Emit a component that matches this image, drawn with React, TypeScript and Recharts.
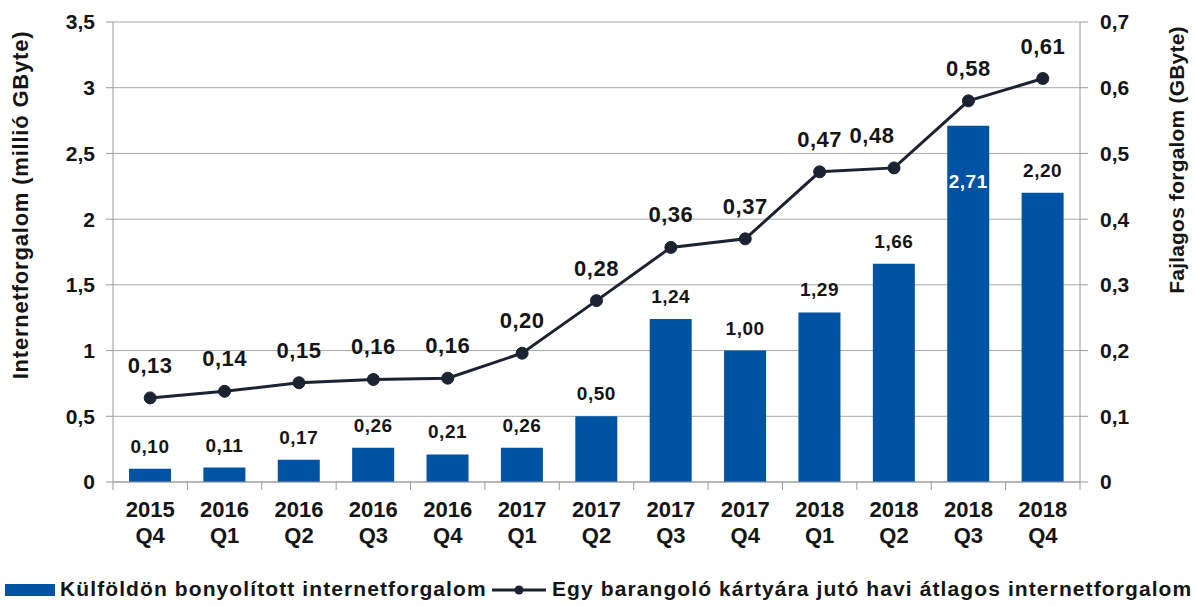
import React from 'react';
import { ComposedChart, Bar, Line, XAxis, YAxis, CartesianGrid, LabelList } from 'recharts';

const quarters = ['2015 Q4', '2016 Q1', '2016 Q2', '2016 Q3', '2016 Q4', '2017 Q1', '2017 Q2', '2017 Q3', '2017 Q4', '2018 Q1', '2018 Q2', '2018 Q3', '2018 Q4'];
const traffic = [0.10, 0.11, 0.17, 0.26, 0.21, 0.26, 0.50, 1.24, 1.00, 1.29, 1.66, 2.71, 2.20];
const perCard = [0.128, 0.138, 0.151, 0.156, 0.158, 0.196, 0.276, 0.357, 0.370, 0.472, 0.478, 0.580, 0.614];
const leftTicks = [0, 0.5, 1, 1.5, 2, 2.5, 3, 3.5];
const rightTicks = [0, 0.1, 0.2, 0.3, 0.4, 0.5, 0.6, 0.7];

const BAR_NAME = 'Külföldön bonyolított internetforgalom';
const LINE_NAME = 'Egy barangoló kártyára jutó havi átlagos internetforgalom';
const LEFT_TITLE = 'Internetforgalom (millió GByte)';
const RIGHT_TITLE = 'Fajlagos forgalom (GByte)';

const W = 1196;
const H = 560;
const PLOT_LEFT = 113;
const PLOT_RIGHT = 1080;
const BAND = (PLOT_RIGHT - PLOT_LEFT) / quarters.length;

// the 2018 Q3 bar label sits inside the bar, in white
const INSIDE_BAR_LABELS = [11];
// small nudges for line labels that would collide
const LINE_LABEL_DX: Record<number, number> = { 10: -22 };

const FONT = '"Liberation Sans", Arial, sans-serif';
const BAR_COLOR = '#0052a3';
const LINE_COLOR = '#1b2232';
const AXIS_COLOR = '#9a9a9a';
const TEXT_COLOR = '#151515';

const data = quarters.map((q, i) => ({ q, traffic: traffic[i], perCard: perCard[i] }));

const comma = (v: number, digits: number) => v.toFixed(digits).replace('.', ',');
const leftFmt = (v: number) => String(v).replace('.', ',');
const rightFmt = (v: number) => (v === 0 ? '0' : comma(v, 1));

const XTick = (props: any) => {
  const { x, y, payload, index } = props;
  const [year, qq] = String(payload.value).split(' ');
  const last = index === quarters.length - 1;
  return (
    <g>
      <line x1={x - BAND / 2} x2={x - BAND / 2} y1={y} y2={y + 8} stroke={AXIS_COLOR} />
      {last && <line x1={x + BAND / 2} x2={x + BAND / 2} y1={y} y2={y + 8} stroke={AXIS_COLOR} />}
      <text x={x} y={y + 35} textAnchor="middle" fontSize={22} fontWeight="bold" fill={TEXT_COLOR} fontFamily={FONT}>{year}</text>
      <text x={x} y={y + 61} textAnchor="middle" fontSize={22} fontWeight="bold" fill={TEXT_COLOR} fontFamily={FONT}>{qq}</text>
    </g>
  );
};

const BarValueLabel = (props: any) => {
  const { x, y, width, value, index } = props;
  const inside = INSIDE_BAR_LABELS.includes(index);
  return (
    <text
      x={x + width / 2}
      y={inside ? y + 62 : y - 16}
      textAnchor="middle"
      fontSize={19}
      fontWeight="bold"
      letterSpacing={0.5}
      fill={inside ? '#ffffff' : TEXT_COLOR}
      fontFamily={FONT}
    >
      {comma(value, 2)}
    </text>
  );
};

const LineValueLabel = (props: any) => {
  const { x, y, value, index } = props;
  const dx = LINE_LABEL_DX[index] ?? 0;
  return (
    <text x={x + dx} y={y - 25} textAnchor="middle" fontSize={22} fontWeight="bold" letterSpacing={0.5} fill={TEXT_COLOR} fontFamily={FONT}>
      {comma(value, 2)}
    </text>
  );
};

const tickStyle = { fill: TEXT_COLOR, fontSize: 21, fontWeight: 'bold', fontFamily: FONT };

const legendText: React.CSSProperties = { position: 'absolute', top: 17, lineHeight: '24px', fontWeight: 'bold', fontSize: 21, letterSpacing: 1.1 };

export default function App() {
  return (
    <div style={{ position: 'absolute', left: 0, top: 0, width: W, height: 606, background: '#fff', fontFamily: FONT, color: TEXT_COLOR }}>
      <ComposedChart width={W} height={H} data={data} margin={{ top: 22, right: 0, bottom: 0, left: 0 }}>
        <CartesianGrid vertical={false} stroke="#a8a8a8" yAxisId="left" />
        <XAxis
          dataKey="q"
          height={78}
          interval={0}
          tickSize={0}
          tickMargin={0}
          tickLine={false}
          axisLine={{ stroke: AXIS_COLOR }}
          tick={<XTick />}
        />
        <YAxis
          yAxisId="left"
          width={PLOT_LEFT}
          domain={[0, 3.5]}
          ticks={leftTicks}
          interval={0}
          tickFormatter={leftFmt}
          tick={tickStyle}
          tickSize={7}
          tickMargin={11}
          tickLine={{ stroke: AXIS_COLOR }}
          axisLine={{ stroke: AXIS_COLOR }}
        />
        <YAxis
          yAxisId="right"
          orientation="right"
          width={W - PLOT_RIGHT}
          domain={[0, 0.7]}
          ticks={rightTicks}
          interval={0}
          tickFormatter={rightFmt}
          tick={{ ...tickStyle, textAnchor: 'start' }}
          tickSize={8}
          tickMargin={12}
          tickLine={{ stroke: AXIS_COLOR }}
          axisLine={{ stroke: AXIS_COLOR }}
        />
        <Bar yAxisId="left" dataKey="traffic" name={BAR_NAME} fill={BAR_COLOR} barSize={42} isAnimationActive={false}>
          <LabelList dataKey="traffic" content={<BarValueLabel />} />
        </Bar>
        <Line
          yAxisId="right"
          type="linear"
          dataKey="perCard"
          name={LINE_NAME}
          stroke={LINE_COLOR}
          strokeWidth={3}
          dot={{ r: 6, fill: LINE_COLOR, stroke: LINE_COLOR, strokeWidth: 1 }}
          isAnimationActive={false}
        >
          <LabelList dataKey="perCard" content={<LineValueLabel />} />
        </Line>
      </ComposedChart>
      {/* axis titles */}
      <svg style={{ position: 'absolute', left: 0, top: 0, pointerEvents: 'none' }} width={W} height={H}>
        <text x={22} y={205} transform="rotate(-90 22 205)" textAnchor="middle" dominantBaseline="middle" fontSize={22} letterSpacing={0.8} fontWeight="bold" fill={TEXT_COLOR} fontFamily={FONT}>
          {LEFT_TITLE}
        </text>
        <text x={1178} y={160} transform="rotate(-90 1178 160)" textAnchor="middle" dominantBaseline="middle" fontSize={21} letterSpacing={0.2} fontWeight="bold" fill={TEXT_COLOR} fontFamily={FONT}>
          {RIGHT_TITLE}
        </text>
      </svg>
      <div style={{ position: 'absolute', left: 0, top: H, width: W, height: 46, whiteSpace: 'nowrap' }}>
        <div style={{ position: 'absolute', left: 5, top: 24, width: 50, height: 12, background: BAR_COLOR }} />
        <div style={{ ...legendText, left: 60 }}>{BAR_NAME}</div>
        <svg style={{ position: 'absolute', left: 492, top: 21 }} width={54} height={18}>
          <line x1={0} x2={54} y1={9} y2={9} stroke={LINE_COLOR} strokeWidth={3} />
          <circle cx={27} cy={9} r={4.5} fill={LINE_COLOR} />
        </svg>
        <div style={{ ...legendText, left: 552 }}>{LINE_NAME}</div>
      </div>
    </div>
  );
}
